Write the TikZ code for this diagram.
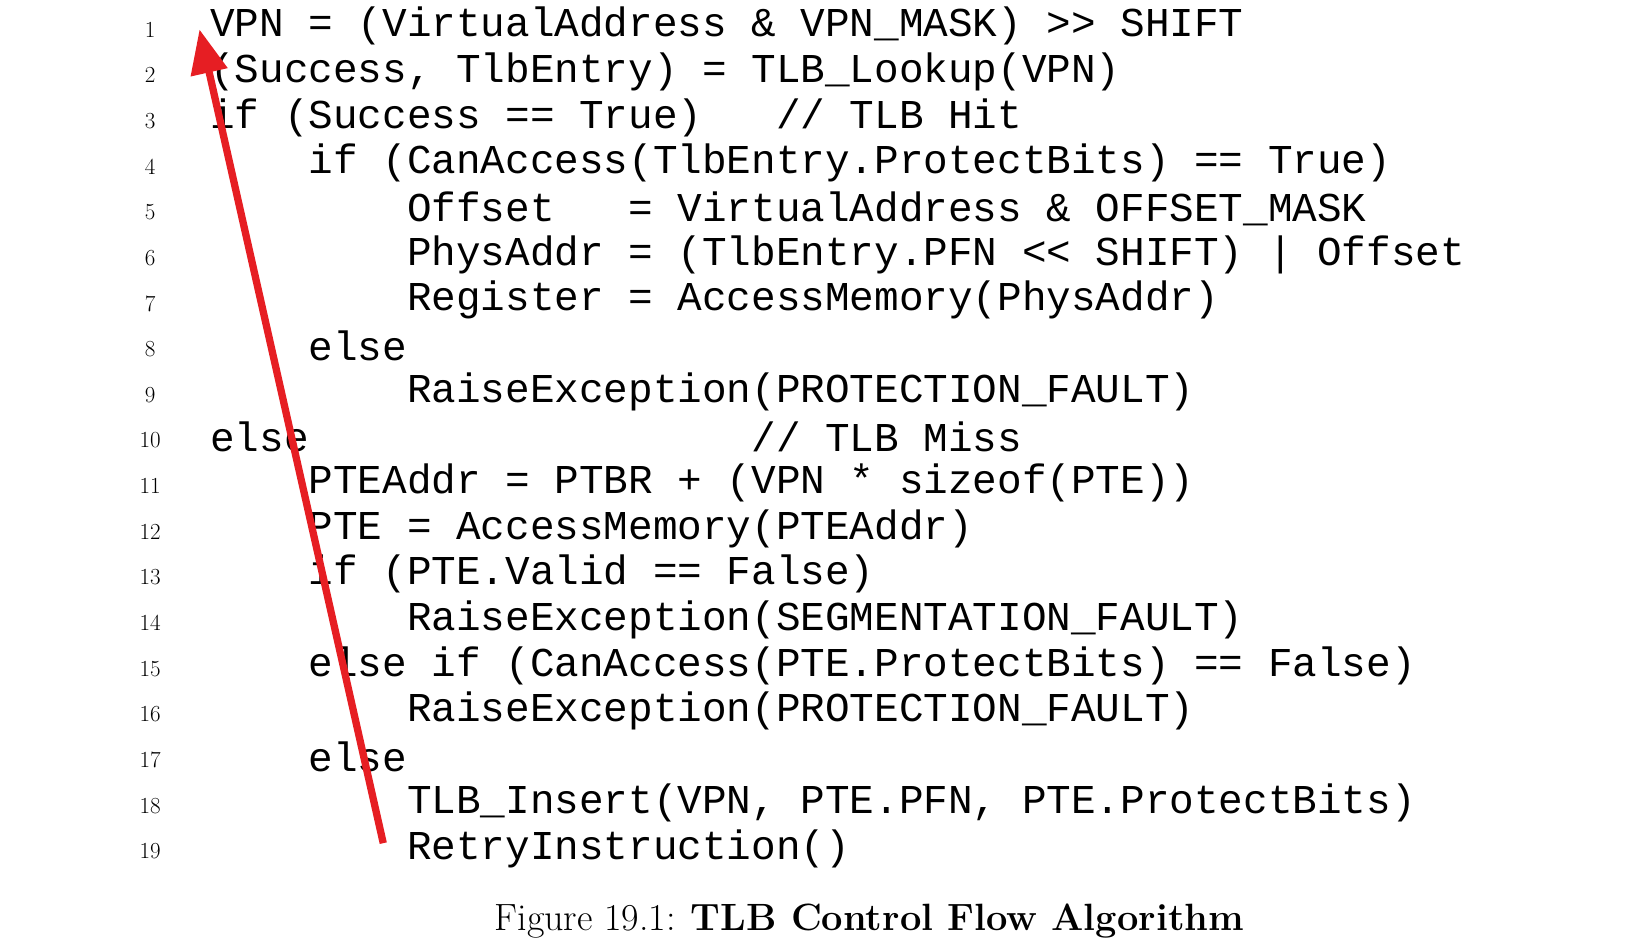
\documentclass[tikz,border=0pt]{standalone}
\usepackage{fontspec}
\setmonofont{Liberation Mono}
\usetikzlibrary{arrows.meta}
\definecolor{arrred}{RGB}{230,30,35}
\begin{document}
\begin{tikzpicture}[x=1.05pt,y=-1.05pt,
  code/.style={anchor=west,inner sep=0pt,font=\ttfamily\fontsize{41}{41}\selectfont},
  lnum/.style={anchor=center,inner sep=0pt,font=\fontsize{23}{23}\selectfont}]
\useasboundingbox (0pt,0pt) rectangle (1645pt,-943pt);
\foreach \t [count=\i] in {
 {VPN = (VirtualAddress \& VPN\_MASK) >> SHIFT},
 {(Success, TlbEntry) = TLB\_Lookup(VPN)},
 {if (Success == True)~~~// TLB Hit},
 {~~~~if (CanAccess(TlbEntry.ProtectBits) == True)},
 {~~~~~~~~Offset~~~= VirtualAddress \& OFFSET\_MASK},
 {~~~~~~~~PhysAddr = (TlbEntry.PFN << SHIFT) | Offset},
 {~~~~~~~~Register = AccessMemory(PhysAddr)},
 {~~~~else},
 {~~~~~~~~RaiseException(PROTECTION\_FAULT)},
 {else~~~~~~~~~~~~~~~~~~// TLB Miss},
 {~~~~PTEAddr = PTBR + (VPN * sizeof(PTE))},
 {~~~~PTE = AccessMemory(PTEAddr)},
 {~~~~if (PTE.Valid == False)},
 {~~~~~~~~RaiseException(SEGMENTATION\_FAULT)},
 {~~~~else if (CanAccess(PTE.ProtectBits) == False)},
 {~~~~~~~~RaiseException(PROTECTION\_FAULT)},
 {~~~~else},
 {~~~~~~~~TLB\_Insert(VPN, PTE.PFN, PTE.ProtectBits)},
 {~~~~~~~~RetryInstruction()}}
{
  \node[lnum] (n\i) at (143,{25+43.5*(\i-1)+3}) {\i};
  \node[code] (c\i) at (200,{25+43.5*(\i-1)}) {\t};
}
\node[inner sep=0pt,font=\fontsize{38}{38}\selectfont] (cap) at (828,877) {Figure 19.1: \textbf{TLB Control Flow Algorithm}};
\coordinate (a0) at (365,803);
\coordinate (a1) at (190,28);
\draw[arrred,line width=7.3pt,-{Triangle[length=44pt,width=36pt]}] (a0) -- (a1);
\end{tikzpicture}
\end{document}
